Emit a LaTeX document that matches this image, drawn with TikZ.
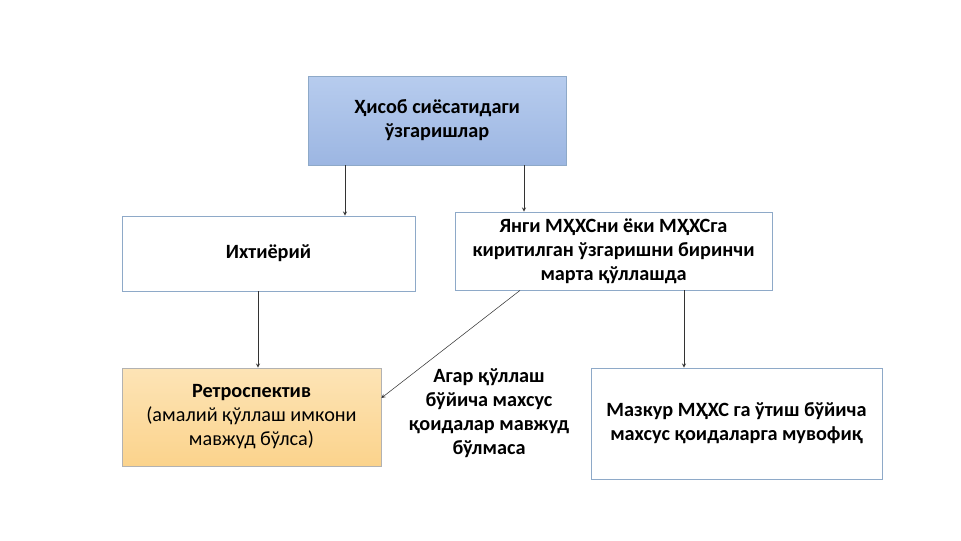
\documentclass[tikz,border=0pt]{standalone}
\usepackage{fontspec}
\setmainfont{Carlito}
\usetikzlibrary{positioning}
\definecolor{edgeblue}{HTML}{8EA9C8}
\definecolor{blueA}{HTML}{B7CCEE}
\definecolor{blueB}{HTML}{9CB6E2}
\definecolor{orangeA}{HTML}{FDE4B6}
\definecolor{orangeB}{HTML}{FBD38C}
\begin{document}
\begin{tikzpicture}[x=0.0264cm, y=-0.0264cm,
    box/.style={rectangle, draw=edgeblue, line width=0.6pt, align=center, font=\fontsize{15.2}{18}\selectfont\bfseries, inner sep=0pt},
    link/.style={->, >=stealth, line width=0.4pt, draw=black!80}
]
\useasboundingbox (0,0) rectangle (961,540);

% Boxes
\node[box, top color=blueA, bottom color=blueB, minimum width=258*0.0264cm, minimum height=89*0.0264cm] (policy) at (437,120.5) {Ҳисоб сиёсатидаги\\ ўзгаришлар};
\node[box, minimum width=293*0.0264cm, minimum height=75*0.0264cm] (choice) at (268.5,253.5) {Ихтиёрий};
\node[box, minimum width=317*0.0264cm, minimum height=78*0.0264cm] (first) at (613.5,251) {Янги МҲХСни ёки МҲХСга\\ киритилган ўзгаришни биринчи\\ марта қўллашда};
\node[box, draw=black!30, top color=orangeA, bottom color=orangeB, minimum width=259*0.0264cm, minimum height=98*0.0264cm] (retro) at (251.5,417) {Ретроспектив\\ {\mdseries (амалий қўллаш имкони}\\ {\mdseries мавжуд бўлса)}};
\node[box, minimum width=291*0.0264cm, minimum height=111*0.0264cm] (trans) at (736.5,423.5) {Мазкур МҲХС га ўтиш бўйича\\ махсус қоидаларга мувофиқ};

% Condition text
\node[align=center, font=\fontsize{15.2}{18}\selectfont\bfseries] (cond) at (489,413) {Агар қўллаш\\ бўйича махсус\\ қоидалар мавжуд\\ бўлмаса};

% Connections
\draw[link] (policy.south -| 345,0) -- (choice.north -| 345,0);
\draw[link] (policy.south -| 524,0) -- (first.north -| 524,0);
\draw[link] (choice.south -| 258,0) -- (retro.north -| 258,0);
\draw[link] (first.south -| 520,0) -- (retro.east |- 0,398);
\draw[link] (first.south -| 684,0) -- (trans.north -| 684,0);
\end{tikzpicture}
\end{document}
